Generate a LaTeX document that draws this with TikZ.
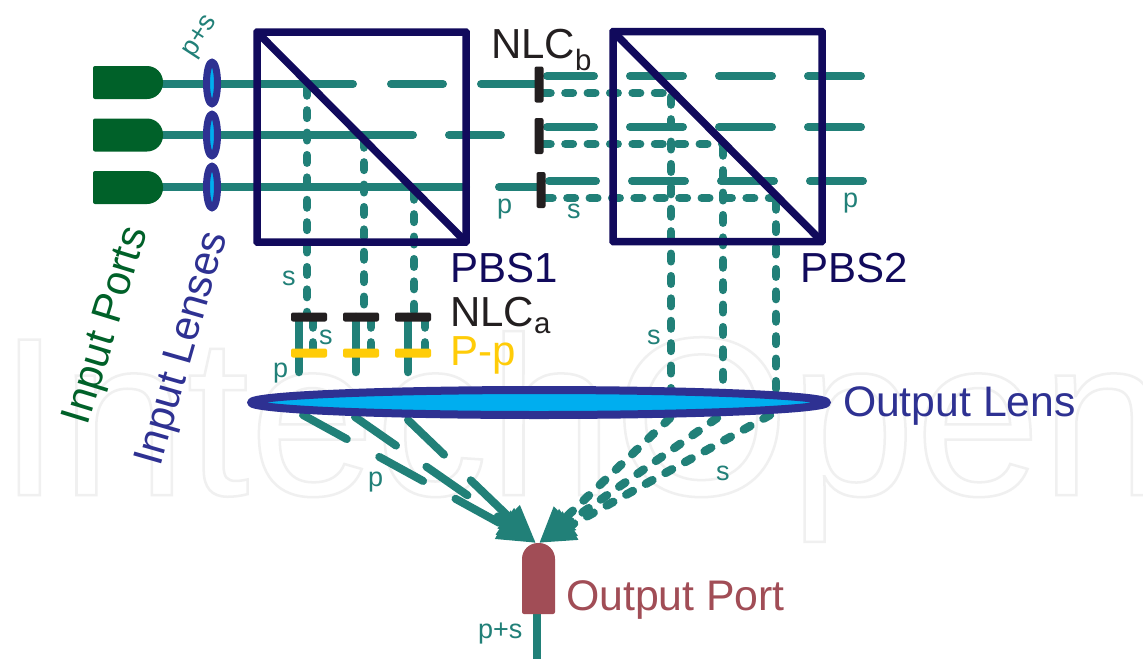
\documentclass[tikz,border=0pt]{standalone}
\usepackage{fontspec}
\setmainfont{Liberation Sans}
\usetikzlibrary{arrows.meta,shapes.geometric,shapes.misc}
\definecolor{teal1}{HTML}{218078}
\definecolor{navy1}{HTML}{110A5C}
\definecolor{blue1}{HTML}{2E3192}
\definecolor{cyan1}{HTML}{00AEEF}
\definecolor{green1}{HTML}{006129}
\definecolor{black1}{HTML}{231F20}
\definecolor{yellow1}{HTML}{FFCC08}
\definecolor{port1c}{HTML}{A14D56}
\pgfdeclarelayer{wm}\pgfdeclarelayer{lines}
\pgfsetlayers{wm,lines,main}
\newcommand{\fs}[1]{\fontsize{#1}{#1}\selectfont}
\tikzset{
  txt/.style={inner sep=0pt,outer sep=0pt,anchor=base west},
  big/.style={txt,font=\fs{42}},
  small/.style={txt,font=\fs{27},text=teal1},
  solidray/.style={draw=teal1,line width=8pt,line cap=round},
  dashray/.style={draw=teal1,line width=8.5pt,line cap=round,dash pattern=on 7.5pt off 14.9pt},
  pray/.style={solidray,dash pattern=on 50pt off 37pt,-{Triangle[length=38pt,width=30pt]}},
  sray/.style={dashray,-{Triangle[length=36pt,width=30pt]}},
  pray2/.style={solidray,dash pattern=on 47pt off 36pt on 53pt off 36pt on 53pt off 36pt on 53pt},
  pbs/.style={draw=navy1,line width=7.5pt,fill=none,inner sep=0pt,outer sep=0pt,minimum width=209pt,minimum height=210pt,rounded corners=0.5pt},
  inlens/.style={ellipse,draw=blue1,fill=cyan1,line width=7pt,line join=round,inner sep=0pt,outer sep=0pt,minimum width=11pt,minimum height=42pt},
  barv/.style={rectangle,rounded corners=2pt,fill=black1,inner sep=0pt,outer sep=0pt,minimum width=9pt,minimum height=36pt},
  barh/.style={rectangle,rounded corners=2pt,inner sep=0pt,outer sep=0pt,minimum width=36pt,minimum height=9pt},
}
\begin{document}
\begin{tikzpicture}[x=1pt,y=-1pt]
\path[use as bounding box] (0,0) rectangle (1143,659);
\clip (0,0) rectangle (1143,659);

% watermark
\begin{pgfonlayer}{wm}
\fill[white] (0,0) rectangle (1143,659);
\node[txt,font=\fs{226}] (wmark) at (-2,495) {\special{pdf:literal 1 Tr 2.5 w 0.94 0.94 0.94 RG}IntechOpen\special{pdf:literal 0 Tr 1 w 0 0 0 RG}};
\end{pgfonlayer}

% input ports
\foreach \y in {66,118.5,171}{
  \fill[green1,rounded corners=2pt] (93,\y+16) -- (93,\y) -- (130,\y) [rounded corners=16pt] -- (163,\y) -- (163,\y+33) [rounded corners=2pt] -- (93,\y+33) -- cycle;
}
\node[inlens] (lens1) at (212,83) {};
\node[inlens] (lens2) at (212,135) {};
\node[inlens] (lens3) at (212,187) {};

% cubes
\node[pbs] (pbsa) at (361.5,137) {};
\draw[navy1,line width=7.5pt] (pbsa.north west) -- (pbsa.south east);
\node[pbs] (pbsb) at (717.5,136.5) {};
\draw[navy1,line width=7.5pt] (pbsb.north west) -- (pbsb.south east);

% NLC b
\node[barv] (nb1) at (539,84.5) {};
\node[barv] (nb2) at (539,136) {};
\node[barv] (nb3) at (541,190) {};

% NLC a and P-p
\node[barh,fill=black1] (na1) at (309,317) {};
\node[barh,fill=black1] (na2) at (361,317) {};
\node[barh,fill=black1] (na3) at (413,317) {};
\node[barh,fill=yellow1] (pp1) at (309,353) {};
\node[barh,fill=yellow1] (pp2) at (361,353) {};
\node[barh,fill=yellow1] (pp3) at (413,353) {};

% output lens and port
\node[ellipse,draw=blue1,fill=cyan1,line width=8pt,line join=round,inner sep=0pt,outer sep=0pt,minimum width=576pt,minimum height=25pt] (olens) at (539,402.5) {};
\fill[port1c,rounded corners=2pt] (522,614) -- (522,570) [rounded corners=16pt] -- (522,543) -- (555,543) [rounded corners=2pt] -- (555,614) -- cycle;

\coordinate (tipl) at (536,543);
\coordinate (tipr) at (539,543);
\coordinate (top) at (537,612);
\coordinate (bot) at (537,659);
\coordinate (b1) at (307,88);  \coordinate (b2) at (364,140); \coordinate (b3) at (414,192);
\coordinate (c1) at (671,97);  \coordinate (c2) at (723,148); \coordinate (c3) at (776,202);
\coordinate (d1) at (671,405); \coordinate (d2) at (723,405); \coordinate (d3) at (776,405);

\begin{pgfonlayer}{lines}
% input rays
\draw[solidray,dash pattern=on 190pt off 38pt on 52pt off 38pt on 60pt] (163,84) -- (nb1.center |- 0,84);
\draw[solidray,dash pattern=on 250pt off 36pt on 52pt off 100pt] (163,135) -- (nb2.center |- 0,135);
\draw[solidray,dash pattern=on 303pt off 33pt on 43pt off 100pt] (163,187) -- (nb3.center |- 0,187);
% p beyond NLC b
\draw[pray2] (547,76) -- (862,76);
\draw[pray2] (547,127) -- (862,127);
\draw[pray2] (549,181) -- (864,181);
% s beyond NLC b
\draw[dashray] (543,93) -- (c1 |- 0,93);
\draw[dashray] (543,144) -- (c2 |- 0,144);
\draw[dashray] (545,198) -- (c3 |- 0,198);
% s from PBS1
\draw[dashray] (b1) -- (b1 |- na1);
\draw[dashray] (b2) -- (b2 |- na2);
\draw[dashray] (b3) -- (b3 |- na3);
\draw[dashray] (313,320) -- (313,350);
\draw[dashray] (371,320) -- (371,350);
\draw[dashray] (425,320) -- (425,350);
\draw[solidray,line width=8.5pt] (299,317) -- (299,372);
\draw[solidray,line width=8.5pt] (356,317) -- (356,372);
\draw[solidray,line width=8.5pt] (408,317) -- (408,372);
% s from PBS2
\draw[dashray] (c1) -- (d1);
\draw[dashray] (c2) -- (d2);
\draw[dashray] (c3) -- (d3);
% focused rays
\draw[pray] (303,415) -- (tipl);
\draw[pray] (355,417) -- (tipl);
\draw[pray] (408,420) -- (tipl);
\draw[sray] (670,418) -- (tipr);
\draw[sray] (717,418) -- (tipr);
\draw[sray] (770,415) -- (tipr);
% output fibre
\draw[draw=teal1,line width=8pt] (top) -- (bot);
\end{pgfonlayer}

% labels
\node[big,text=navy1] (tpbsa) at (450,282) {PBS1};
\node[big,text=navy1] (tpbsb) at (800,282) {PBS2};
\node[big,text=black1] (tnlcb) at (491,58) {NLC\textsubscript{b}};
\node[big,text=black1] (tnlca) at (450,326) {NLC\textsubscript{a}};
\node[big,text=yellow1] (tpp) at (450,365) {P-p};
\node[big,text=blue1,font=\fs{42.7}] (toutl) at (843,416) {Output Lens};
\node[big,text=port1c,font=\fs{42.8}] (toutp) at (566,610) {Output Port};
\node[font=\fs{42},text=green1,rotate=73,inner sep=0pt] (tinp) at (108,326) {Input Ports};
\node[font=\fs{42},text=blue1,rotate=74,inner sep=0pt] (tinl) at (184,349) {Input Lenses};
\node[font=\fs{27},text=teal1,rotate=57,inner sep=0pt] (tps1) at (201,37) {p+s};
\node[small] (tps2) at (478,638) {p+s};
\node[small] (t1) at (497,213) {p};
\node[small] (t2) at (567,218) {s};
\node[small] (t3) at (843,207) {p};
\node[small] (t4) at (282,285) {s};
\node[small] (t5) at (319,344) {s};
\node[small] (t6) at (273,377) {p};
\node[small] (t7) at (368,486) {p};
\node[small] (t8) at (647,344) {s};
\node[small] (t9) at (716,480) {s};
\end{tikzpicture}
\end{document}
